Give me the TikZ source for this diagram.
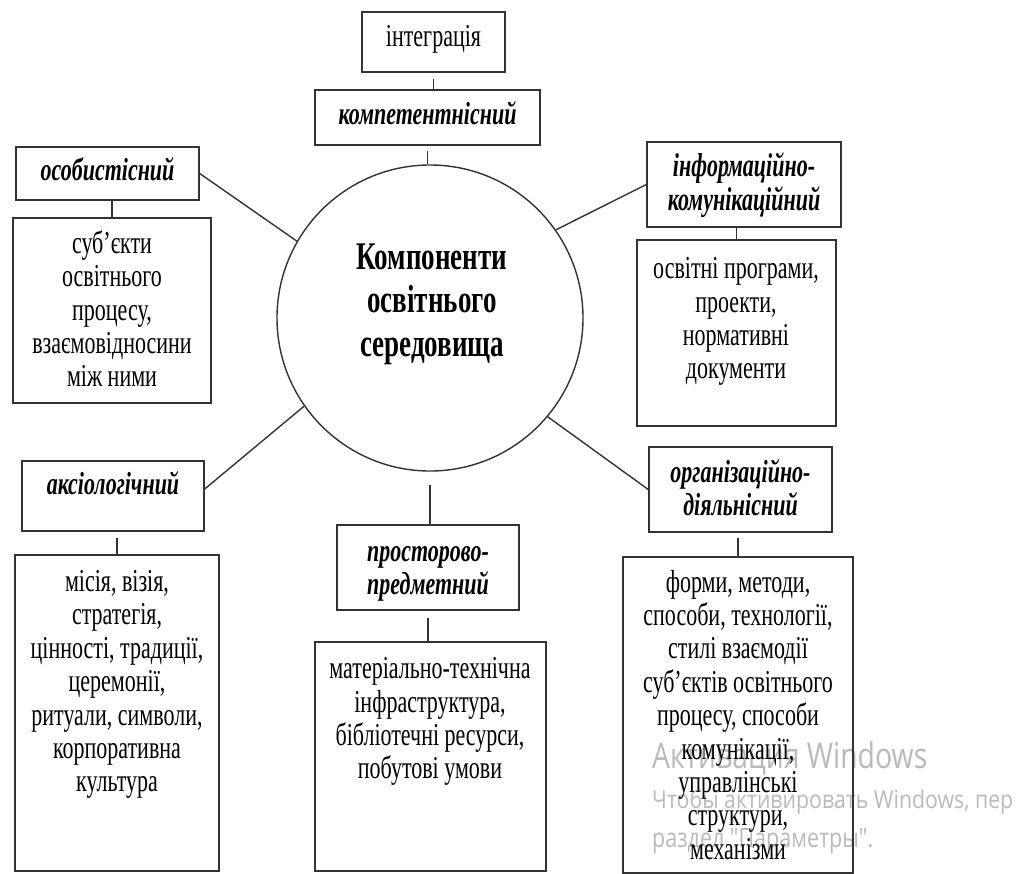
\documentclass[tikz,border=0pt]{standalone}
\usepackage{graphicx}
\usepackage{fontspec}
\setmainfont{Liberation Serif}
\newfontfamily\wmfont{Open Sans}
\newcommand\vs[2][1.45]{\scalebox{1}[#1]{\begin{tabular}{@{}c@{}}#2\end{tabular}}}
\tikzset{
  ln/.style={draw=black!80, line width=1.4pt},
  bx/.style={draw=black!80, line width=1.4pt, rectangle, inner sep=0pt},
  txt/.style={inner sep=0pt, font=\fontsize{22}{23}\selectfont},
  htxt/.style={inner sep=0pt, font=\fontsize{22}{23}\selectfont\bfseries\itshape},
  ctxt/.style={inner sep=0pt, font=\fontsize{27}{30}\selectfont\bfseries},
  wm/.style={inner sep=0pt, anchor=base west, text=black!27, font=\wmfont},
}
\begin{document}
\begin{tikzpicture}[x=1pt,y=-1pt]
\useasboundingbox[fill=white] (0,0) rectangle (1027,873);
% watermark
\node[wm] (wm1) at (652,768) {\resizebox{275pt}{27pt}{Активация Windows}};
\node[wm] (wm2) at (652,808) {\resizebox{361pt}{19pt}{Чтобы активировать Windows, пер}};
\node[wm] (wm3) at (652,847) {\resizebox{221pt}{19pt}{раздел "Параметры".}};
% circle
\node[bx, circle, minimum size=306pt] (circ) at (430,318) {};
\node[ctxt] (circT) at (432,304) {\vs{Компоненти\\освітнього\\середовища}};
% top
\node[bx, minimum width=143pt, minimum height=60pt] (integr) at (433.5,42) {};
\node[txt] (integrT) at (433.5,40) {\vs{інтеграція}};
\node[bx, minimum width=225pt, minimum height=55pt] (kompet) at (427.5,117.5) {};
\node[htxt] (kompetT) at (427.5,117.5) {\vs{компетентнісний}};
% left top
\node[bx, minimum width=183pt, minimum height=53pt] (osob) at (107.5,173.5) {};
\node[htxt] (osobT) at (107.5,173.5) {\vs{особистісний}};
\node[bx, minimum width=198pt, minimum height=185pt] (osobD) at (112,310.5) {};
\node[txt] (osobDT) at (112,313.5) {\vs{суб’єкти\\освітнього\\процесу,\\взаємовідносини\\між ними}};
% right top
\node[bx, minimum width=194pt, minimum height=85pt] (info) at (744,184.5) {};
\node[htxt] (infoT) at (744,186.5) {\vs[1.5]{інформаційно-\\комунікаційний}};
\node[bx, minimum width=199pt, minimum height=186pt] (infoD) at (736.5,333) {};
\node[txt] (infoDT) at (736,322) {\vs{освітні програми,\\проекти,\\нормативні\\документи}};
% left bottom
\node[bx, minimum width=182pt, minimum height=70pt] (aksio) at (113,496) {};
\node[htxt] (aksioT) at (113,488) {\vs{аксіологічний}};
\node[bx, minimum width=204pt, minimum height=316pt] (aksioD) at (117,713) {};
\node[txt] (aksioDT) at (117,685) {\vs{місія, візія,\\стратегія,\\цінності, традиції,\\церемонії,\\ритуали, символи,\\корпоративна\\культура}};
% middle bottom
\node[bx, minimum width=182pt, minimum height=85pt] (prost) at (428,567.5) {};
\node[htxt] (prostT) at (428,571) {\vs{просторово-\\предметний}};
\node[bx, minimum width=231pt, minimum height=229pt] (prostD) at (430.5,756.5) {};
\node[txt] (prostDT) at (430,722) {\vs{матеріально-технічна\\інфраструктура,\\бібліотечні ресурси,\\побутові умови}};
% right bottom
\node[bx, minimum width=183pt, minimum height=85pt] (org) at (740.5,489.5) {};
\node[htxt] (orgT) at (740.5,492.5) {\vs{організаційно-\\діяльнісний}};
\node[bx, minimum width=230pt, minimum height=316pt] (orgD) at (738,715) {};
\node[txt] (orgDT) at (738,719) {\vs{форми, методи,\\способи, технології,\\стилі взаємодії\\суб’єктів освітнього\\процесу, способи\\комунікації,\\управлінські\\структури,\\механізми}};
% connectors
\draw[ln] ([yshift=-6pt]integr.south) -- (integr.south |- kompet.north);
\draw[ln] ([yshift=-5pt]kompet.south) -- (kompet.south |- circ.north);
\draw[ln] (osob.east) -- (circ.150);
\draw[ln] (osobD.north |- osob.south) -- (osobD.north);
\draw[ln] (info.west) -- (circ.35);
\draw[ln] (info.south -| infoD.north) -- (infoD.north);
\draw[ln] ([yshift=7pt]aksio.east) -- (circ.215);
\draw[ln] ([yshift=-6pt]aksio.south -| aksioD.north) -- (aksioD.north);
\draw[ln] ([yshift=-13pt]circ.south) -- (circ.south |- prost.north);
\draw[ln] ([yshift=-7pt]prost.south) -- (prost.south |- prostD.north);
\draw[ln] (org.west) -- (circ.-40);
\draw[ln] ([yshift=-5pt]org.south -| orgD.north) -- (orgD.north);
\end{tikzpicture}
\end{document}
